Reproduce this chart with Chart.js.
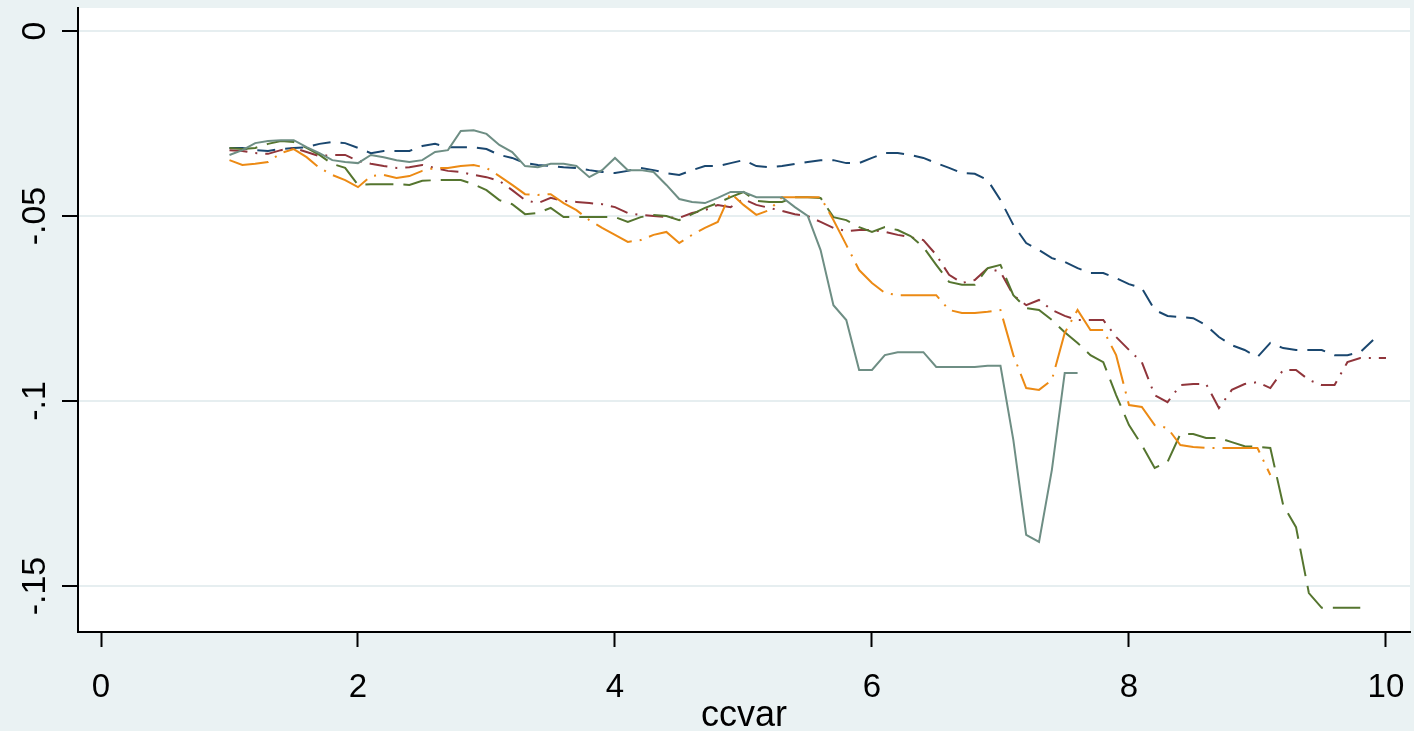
<!DOCTYPE html>
<html><head><meta charset="utf-8">
<script src="https://cdn.jsdelivr.net/npm/chart.js@4.4.1/dist/chart.umd.min.js"></script>
<style>html,body{margin:0;padding:0;background:#EAF2F3;overflow:hidden}#wrap{width:1414px;height:731px}</style>
</head><body><div id="wrap"><canvas id="c" width="1414" height="731"></canvas></div>
<script>
const xValues = [1.0,1.1,1.2,1.3,1.4,1.5,1.6,1.7,1.8,1.9,
  2.0,2.1,2.2,2.3,2.4,2.5,2.6,2.7,2.8,2.9,
  3.0,3.1,3.2,3.3,3.4,3.5,3.6,3.7,3.8,3.9,
  4.0,4.1,4.2,4.3,4.4,4.5,4.6,4.7,4.8,4.9,
  5.0,5.1,5.2,5.3,5.4,5.5,5.6,5.7,5.8,5.9,
  6.0,6.1,6.2,6.3,6.4,6.5,6.6,6.7,6.8,6.9,
  7.0,7.1,7.2,7.3,7.4,7.5,7.6,7.7,7.8,7.9,
  8.0,8.1,8.2,8.3,8.4,8.5,8.6,8.7,8.8,8.9,
  9.0,9.1,9.2,9.3,9.4,9.5,9.6,9.7,9.8,9.9,10.0];

const xTickValues = [0,2,4,6,8,10];
const xTickLabels = ['0','2','4','6','8','10'];
const yTickValues = [0,-0.05,-0.1,-0.15];
const yTickLabels = ['0','-.05','-.1','-.15'];
const xTitle = 'ccvar';

const seriesNavy = [-0.0316,-0.0316,-0.0322,-0.0324,-0.0319,-0.0316,-0.0314,-0.0305,-0.0300,-0.0303,
  -0.0316,-0.0330,-0.0324,-0.0324,-0.0324,-0.0311,-0.0305,-0.0314,-0.0314,-0.0314,
  -0.0319,-0.0335,-0.0343,-0.0357,-0.0362,-0.0365,-0.0368,-0.0370,-0.0376,-0.0381,
  -0.0384,-0.0378,-0.0370,-0.0376,-0.0384,-0.0389,-0.0376,-0.0365,-0.0365,-0.0357,
  -0.0349,-0.0365,-0.0368,-0.0365,-0.0359,-0.0354,-0.0349,-0.0349,-0.0357,-0.0357,
  -0.0343,-0.0330,-0.0330,-0.0335,-0.0343,-0.0357,-0.0370,-0.0384,-0.0386,-0.0403,
  -0.0457,-0.0524,-0.0573,-0.0592,-0.0614,-0.0624,-0.0641,-0.0654,-0.0654,-0.0668,
  -0.0684,-0.0695,-0.0754,-0.0770,-0.0773,-0.0776,-0.0795,-0.0827,-0.0849,-0.0862,
  -0.0881,-0.0843,-0.0857,-0.0862,-0.0862,-0.0862,-0.0876,-0.0876,-0.0868,-0.0835,null];

const seriesMaroon = [-0.0322,-0.0324,-0.0330,-0.0332,-0.0322,-0.0316,-0.0327,-0.0338,-0.0335,-0.0335,
  -0.0351,-0.0359,-0.0365,-0.0370,-0.0368,-0.0362,-0.0370,-0.0378,-0.0381,-0.0389,
  -0.0395,-0.0405,-0.0430,-0.0457,-0.0465,-0.0451,-0.0459,-0.0462,-0.0465,-0.0468,
  -0.0476,-0.0492,-0.0497,-0.0500,-0.0503,-0.0505,-0.0492,-0.0484,-0.0470,-0.0476,
  -0.0454,-0.0470,-0.0478,-0.0486,-0.0495,-0.0500,-0.0516,-0.0532,-0.0541,-0.0538,
  -0.0538,-0.0543,-0.0551,-0.0557,-0.0565,-0.0605,-0.0659,-0.0681,-0.0673,-0.0641,
  -0.0651,-0.0714,-0.0741,-0.0727,-0.0754,-0.0770,-0.0781,-0.0781,-0.0781,-0.0827,
  -0.0862,-0.0895,-0.0984,-0.1003,-0.0957,-0.0954,-0.0954,-0.1019,-0.0970,-0.0954,
  -0.0949,-0.0965,-0.0916,-0.0916,-0.0943,-0.0957,-0.0957,-0.0895,-0.0884,-0.0884,-0.0884];

const seriesGreen = [-0.0316,-0.0319,-0.0316,-0.0305,-0.0297,-0.0300,-0.0316,-0.0335,-0.0359,-0.0370,
  -0.0416,-0.0414,-0.0414,-0.0414,-0.0416,-0.0405,-0.0403,-0.0403,-0.0403,-0.0414,
  -0.0430,-0.0457,-0.0468,-0.0495,-0.0492,-0.0478,-0.0503,-0.0503,-0.0503,-0.0503,
  -0.0503,-0.0516,-0.0503,-0.0497,-0.0500,-0.0511,-0.0495,-0.0478,-0.0465,-0.0449,
  -0.0435,-0.0459,-0.0462,-0.0462,-0.0449,-0.0449,-0.0451,-0.0503,-0.0511,-0.0530,
  -0.0543,-0.0530,-0.0538,-0.0554,-0.0584,-0.0632,-0.0678,-0.0686,-0.0686,-0.0641,
  -0.0632,-0.0714,-0.0749,-0.0754,-0.0781,-0.0814,-0.0843,-0.0876,-0.0895,-0.0984,
  -0.1065,-0.1119,-0.1181,-0.1165,-0.1089,-0.1089,-0.1100,-0.1100,-0.1111,-0.1122,
  -0.1124,-0.1127,-0.1281,-0.1341,-0.1519,-0.1559,-0.1559,-0.1559,-0.1559,null,null];

const seriesOrange = [-0.0349,-0.0362,-0.0359,-0.0354,-0.0330,-0.0319,-0.0341,-0.0370,-0.0389,-0.0403,
  -0.0422,-0.0392,-0.0389,-0.0397,-0.0392,-0.0378,-0.0370,-0.0370,-0.0365,-0.0362,
  -0.0370,-0.0392,-0.0416,-0.0441,-0.0443,-0.0441,-0.0465,-0.0484,-0.0511,-0.0532,
  -0.0551,-0.0570,-0.0565,-0.0551,-0.0543,-0.0573,-0.0551,-0.0532,-0.0516,-0.0438,
  -0.0470,-0.0497,-0.0484,-0.0449,-0.0449,-0.0449,-0.0449,-0.0511,-0.0578,-0.0646,
  -0.0681,-0.0708,-0.0714,-0.0714,-0.0714,-0.0714,-0.0754,-0.0762,-0.0762,-0.0759,
  -0.0754,-0.0876,-0.0965,-0.0970,-0.0943,-0.0816,-0.0754,-0.0808,-0.0808,-0.0876,
  -0.1011,-0.1016,-0.1065,-0.1073,-0.1119,-0.1124,-0.1127,-0.1127,-0.1127,-0.1127,
  -0.1127,-0.1200,null,null,null,null,null,null,null,null,null];

const seriesTeal = [-0.0335,-0.0322,-0.0303,-0.0297,-0.0295,-0.0295,-0.0314,-0.0330,-0.0349,-0.0354,
  -0.0357,-0.0335,-0.0341,-0.0349,-0.0354,-0.0349,-0.0327,-0.0322,-0.0270,-0.0268,
  -0.0278,-0.0308,-0.0327,-0.0365,-0.0368,-0.0359,-0.0359,-0.0365,-0.0395,-0.0376,
  -0.0343,-0.0376,-0.0376,-0.0381,-0.0416,-0.0454,-0.0462,-0.0465,-0.0451,-0.0435,
  -0.0435,-0.0449,-0.0449,-0.0449,-0.0476,-0.0500,-0.0592,-0.0741,-0.0781,-0.0916,
  -0.0916,-0.0876,-0.0868,-0.0868,-0.0868,-0.0908,-0.0908,-0.0908,-0.0908,-0.0905,
  -0.0905,-0.1105,-0.1362,-0.1381,-0.1186,-0.0924,-0.0924,null,null,null,
  null,null,null,null,null,null,null,null,null,null,
  null,null,null,null,null,null,null,null,null,null,null];

const toPoints = arr => xValues.map((x,i)=>({x:x,y:arr[i]}));
const FONT = '"Liberation Sans", Arial, sans-serif';

const bgPlugin = {id:'bg', beforeDraw(chart){
  const {ctx, chartArea:a} = chart;
  ctx.save();
  ctx.fillStyle = '#EAF2F3';
  ctx.fillRect(0,0,chart.width,chart.height);
  ctx.fillStyle = '#FFFFFF';
  ctx.fillRect(a.left,a.top,a.right-a.left,a.bottom-a.top);
  ctx.restore();
}};
const yLabelPlugin = {id:'ylab', afterDraw(chart){
  const s = chart.scales.y, ctx = chart.ctx;
  ctx.save();
  ctx.font = '34px ' + FONT;
  ctx.fillStyle = '#000';
  ctx.textAlign = 'center';
  ctx.textBaseline = 'alphabetic';
  yTickValues.forEach((v,i)=>{
    const py = s.getPixelForValue(v);
    ctx.save();
    ctx.translate(45, py);
    ctx.rotate(-Math.PI/2);
    ctx.fillText(yTickLabels[i], 0, 0);
    ctx.restore();
  });
  ctx.restore();
}};

const mk = (data,color,dash,order)=>({data:toPoints(data),borderColor:color,borderWidth:2,borderDash:dash,
  pointRadius:0,fill:false,tension:0,spanGaps:false,order:order});

new Chart(document.getElementById('c'), {
  type:'line',
  data:{datasets:[
    mk(seriesNavy,'#1A476F',[18,10],5),
    mk(seriesMaroon,'#90353B',[18,8,2,8],4),
    mk(seriesGreen,'#55752F',[28,10],3),
    mk(seriesOrange,'#EC8A14',[40,8,2,8],2),
    mk(seriesTeal,'#6E8E84',[],1)
  ]},
  options:{
    responsive:false, animation:false, devicePixelRatio:1,
    layout:{padding:{top:8,right:4,left:0,bottom:0}},
    plugins:{legend:{display:false},tooltip:{enabled:false}},
    scales:{
      x:{type:'linear',min:-0.179,max:10.187,
        afterBuildTicks:s=>{s.ticks=xTickValues.map(v=>({value:v}));},
        afterFit:s=>{s.height=99; s.paddingLeft=0; s.paddingRight=0;},
        grid:{drawOnChartArea:false,drawTicks:true,tickLength:15,tickColor:'#000',tickWidth:2},
        border:{color:'#000',width:2},
        ticks:{color:'#000',font:{family:FONT,size:33},padding:21,maxRotation:0,minRotation:0,autoSkip:false,
          callback:(v)=>xTickLabels[xTickValues.indexOf(v)]},
        title:{display:true,text:xTitle,color:'#000',font:{family:FONT,size:36},padding:{top:0,bottom:-7}}
      },
      y:{type:'linear',min:-0.16243,max:0.00622,
        afterBuildTicks:s=>{s.ticks=yTickValues.map(v=>({value:v}));},
        afterFit:s=>{s.width=78;},
        grid:{color:'#E6EEF0',lineWidth:2,drawTicks:true,tickLength:16,tickColor:'#000',tickWidth:2},
        border:{color:'#000',width:2},
        ticks:{display:false}
      }
    }
  },
  plugins:[bgPlugin,yLabelPlugin]
});
</script></body></html>
